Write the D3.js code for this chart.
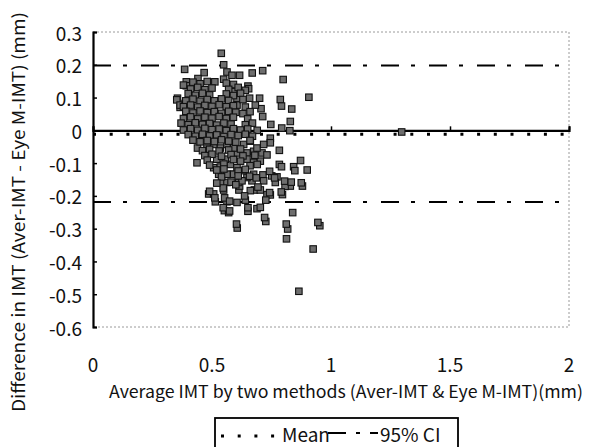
<!DOCTYPE html>
<html><head><meta charset="utf-8">
<script src="https://cdn.jsdelivr.net/npm/d3@7"></script>
<style>html,body{margin:0;padding:0;background:#fff;}svg{display:block;}</style>
</head><body>
<svg id="c" width="597" height="447"></svg>
<script>
const xTicks = [0, 0.5, 1, 1.5, 2];
const xTickLabels = ["0", "0.5", "1", "1.5", "2"];
const yTicks = [0.3, 0.2, 0.1, 0, -0.1, -0.2, -0.3, -0.4, -0.5, -0.6];
const yTickLabels = ["0.3", "0.2", "0.1", "0", "-0.1", "-0.2", "-0.3", "-0.4", "-0.5", "-0.6"];
const meanDiff = -0.012;
const ciUpper = 0.198;
const ciLower = -0.219;
const xTitle = "Average IMT by two methods (Aver-IMT & Eye M-IMT)(mm)";
const yTitle = "Difference in IMT (Aver-IMT  -  Eye M-IMT) (mm)";
const legendItems = ["Mean", "95% CI"];

// [average IMT, difference]
const pointsOuter = [
[0.539,0.235],[0.549,0.200],[0.385,0.186],[0.467,0.176],[0.563,0.178],[0.584,0.168],[0.616,0.168],
[0.669,0.175],[0.713,0.182],[0.799,0.155],[0.907,0.101],[0.441,0.158],[0.392,0.148],[0.392,0.136],
[0.549,0.156],[0.512,0.148],[0.651,0.135],[0.355,0.098],[0.366,0.070],[0.787,0.094],[0.792,0.074],
[0.835,0.065],[0.829,0.027],[0.747,0.018],[0.793,0.007],[0.827,-0.001],[1.297,-0.005],[0.706,0.066],
[0.713,0.042],[0.700,0.098],[0.658,0.098],[0.605,0.098],[0.605,0.077],[0.682,0.077],[0.654,0.127],
[0.591,0.118],[0.352,0.093],[0.366,0.077],[0.387,0.082],[0.380,0.138]
];
const pointsLower = [
[0.437,-0.099],[0.439,-0.054],[0.745,-0.024],[0.745,-0.038],[0.783,-0.061],[0.783,-0.104],[0.792,-0.111],
[0.843,-0.111],[0.872,-0.092],[0.900,-0.121],[0.848,-0.123],[0.880,-0.170],[0.829,-0.170],[0.807,-0.171],
[0.796,-0.196],[0.731,-0.196],[0.745,-0.197],[0.726,-0.213],[0.675,-0.134],[0.714,-0.136],[0.751,-0.139],
[0.773,-0.142],[0.717,-0.154],[0.766,-0.159],[0.668,-0.154],[0.678,-0.182],[0.703,-0.182],[0.613,-0.182],
[0.616,-0.170],[0.661,-0.184],[0.640,-0.213],[0.689,-0.239],[0.703,-0.235],[0.651,-0.247],[0.839,-0.251],
[0.726,-0.278],[0.606,-0.298],[0.818,-0.301],[0.813,-0.331],[0.953,-0.291],[0.925,-0.362],[0.865,-0.491],
[0.552,-0.245],[0.570,-0.251],[0.563,-0.218],[0.514,-0.218],[0.605,-0.220],[0.486,-0.194],[0.507,-0.194],
[0.549,-0.182],[0.542,-0.159],[0.563,-0.159],[0.584,-0.134],[0.612,-0.159],[0.528,-0.134],[0.563,-0.134],
[0.507,-0.114],[0.535,-0.112],[0.577,-0.104],[0.605,-0.114],[0.633,-0.123],[0.591,-0.134],[0.647,-0.144],
[0.626,-0.154],[0.556,-0.088],[0.520,-0.088],[0.605,-0.069],[0.647,-0.069],[0.675,-0.064],[0.710,-0.069],
[0.731,-0.075],[0.703,-0.094],[0.675,-0.098],[0.647,-0.088],[0.633,-0.043],[0.661,-0.033],[0.689,-0.054],
[0.717,-0.043],[0.535,-0.054],[0.507,-0.043],[0.479,-0.054],[0.563,-0.043],[0.591,-0.054],
[0.805,-0.155],[0.833,-0.158],[0.875,-0.160],[0.791,-0.188],[0.742,-0.125],[0.763,-0.145],[0.658,-0.140],
[0.686,-0.145],[0.693,-0.173],[0.742,-0.190],[0.637,-0.200],[0.547,-0.176],[0.490,-0.186],[0.512,-0.206],
[0.553,-0.206],[0.574,-0.216],[0.547,-0.236],[0.574,-0.246],[0.651,-0.236],[0.721,-0.266],[0.603,-0.286],
[0.812,-0.286],[0.945,-0.281],
[0.46,-0.062],[0.49,-0.058],[0.53,-0.063],[0.57,-0.060],[0.62,-0.057],
[0.47,-0.077],[0.50,-0.073],[0.54,-0.079],[0.58,-0.074],[0.63,-0.078],[0.68,-0.076],
[0.48,-0.091],[0.59,-0.089],[0.62,-0.094],[0.49,-0.106],[0.55,-0.103],[0.66,-0.108],[0.69,-0.104],
[0.52,-0.121],[0.55,-0.118],[0.61,-0.124],[0.64,-0.119],[0.54,-0.142],[0.61,-0.139],
[0.52,-0.161],[0.58,-0.158],[0.60,-0.166]
];
const pointsCore = [
[0.42,0.147],[0.45,0.142],[0.48,0.149],[0.56,0.144],[0.59,0.140],
[0.41,0.126],[0.44,0.131],[0.47,0.124],[0.50,0.129],[0.57,0.125],[0.61,0.131],[0.64,0.122],
[0.40,0.112],[0.43,0.107],[0.46,0.113],[0.49,0.108],[0.56,0.111],[0.59,0.106],[0.62,0.113],
[0.39,0.090],[0.42,0.095],[0.45,0.089],[0.48,0.094],[0.51,0.090],[0.54,0.096],[0.57,0.091],[0.63,0.094],
[0.38,0.072],[0.41,0.077],[0.44,0.071],[0.47,0.076],[0.50,0.073],[0.53,0.078],[0.56,0.072],[0.59,0.075],[0.64,0.071],
[0.39,0.058],[0.42,0.053],[0.45,0.059],[0.48,0.054],[0.51,0.057],[0.54,0.052],[0.57,0.058],[0.60,0.055],[0.63,0.051],[0.66,0.057],
[0.38,0.036],[0.41,0.041],[0.44,0.035],[0.47,0.040],[0.50,0.037],[0.53,0.042],[0.56,0.036],[0.59,0.040],[0.65,0.035],
[0.37,0.022],[0.40,0.017],[0.43,0.023],[0.46,0.018],[0.49,0.021],[0.52,0.016],[0.55,0.022],[0.58,0.019],[0.64,0.017],[0.67,0.022],
[0.38,0.001],[0.41,0.005],[0.44,0.000],[0.47,0.006],[0.50,0.002],[0.53,0.004],[0.56,-0.001],[0.59,0.005],[0.62,0.001],[0.65,0.004],[0.69,0.000],
[0.40,-0.013],[0.43,-0.018],[0.46,-0.012],[0.49,-0.017],[0.52,-0.014],[0.55,-0.019],[0.58,-0.013],[0.61,-0.016],[0.64,-0.012],[0.67,-0.018],
[0.42,-0.030],[0.45,-0.035],[0.48,-0.031],[0.51,-0.034],[0.54,-0.029],[0.57,-0.033],[0.60,-0.036],[0.66,-0.031]
];
const points = pointsOuter.concat(pointsLower, pointsCore);

const svg = d3.select("#c");
svg.append("rect").attr("width",597).attr("height",447).attr("fill","#fff");

const x = d3.scaleLinear().domain([0, 2]).range([93, 569]);
const y = d3.scaleLinear().domain([-0.6, 0.3]).range([327, 32]);
const font = "'Noto Sans CJK JP', 'Noto Sans', sans-serif";

// frame (faint scanned border)
svg.append("path")
  .attr("d", `M${x(0)},${y(0.3)}H${x(2)}V${y(-0.6)}H${x(0)}`)
  .attr("fill","none").attr("stroke","#9a9a9a").attr("stroke-width",1)
  .attr("stroke-dasharray","2,2");

// y axis
const yAxis = d3.axisRight(y).tickValues(yTicks).tickSize(4).tickFormat("");
const gy = svg.append("g").attr("transform",`translate(${x(0)},0)`).call(yAxis);
gy.select(".domain").attr("stroke","#000").attr("stroke-width",2.2);
gy.selectAll(".tick line").attr("stroke","#000").attr("stroke-width",1.5);

svg.append("g").selectAll("text").data(yTicks).join("text")
  .attr("x", 82).attr("y", d => y(d))
  .attr("text-anchor","end").attr("dominant-baseline","central")
  .attr("font-family", font).attr("font-size", 19).attr("fill","#111")
  .text((d,i) => yTickLabels[i]);

// x axis crossing at zero
const xAxis = d3.axisTop(x).tickValues(xTicks).tickSize(4).tickFormat("");
const gx = svg.append("g").attr("transform",`translate(0,${y(0)})`).call(xAxis);
gx.select(".domain").attr("stroke","#000").attr("stroke-width",2.2);
gx.selectAll(".tick line").attr("stroke","#000").attr("stroke-width",1.5);

svg.append("g").selectAll("text").data(xTicks).join("text")
  .attr("x", d => x(d)).attr("y", 363)
  .attr("text-anchor","middle").attr("dominant-baseline","central")
  .attr("font-family", font).attr("font-size", 19).attr("fill","#111")
  .text((d,i) => xTickLabels[i]);

// titles
svg.append("text").attr("x", 346).attr("y", 398)
  .attr("text-anchor","middle").attr("font-family", font).attr("font-size", 17).attr("fill","#111")
  .attr("textLength", 474).attr("lengthAdjust","spacingAndGlyphs")
  .text(xTitle);
svg.append("text").attr("transform","translate(25,212) rotate(-90)")
  .attr("text-anchor","middle").attr("font-family", font).attr("font-size", 17).attr("fill","#111")
  .attr("textLength", 400).attr("lengthAdjust","spacingAndGlyphs")
  .text(yTitle);

// reference lines
const line = (v) => `M${x(0)},${y(v)}H${x(2)}`;
svg.append("path").attr("d", line(meanDiff)).attr("stroke","#000").attr("stroke-width",3)
  .attr("stroke-dasharray","3,13.7").attr("fill","none");
[ciUpper, ciLower].forEach(v => {
  svg.append("path").attr("d", line(v)).attr("stroke","#000").attr("stroke-width",2)
    .attr("stroke-dasharray","18,12,4,14").attr("fill","none");
});

// points
const s = 6.5;
svg.append("g").selectAll("rect").data(points).join("rect")
  .attr("x", d => x(d[0]) - s/2).attr("y", d => y(d[1]) - s/2)
  .attr("width", s).attr("height", s)
  .attr("fill","#6e6e6e").attr("stroke","#111").attr("stroke-width",1.1);

// legend
const lg = svg.append("g");
lg.append("rect").attr("x",215).attr("y",418).attr("width",243).attr("height",40)
  .attr("fill","#fff").attr("stroke","#000").attr("stroke-width",1.8);
lg.append("path").attr("d","M221,436H280").attr("stroke","#000").attr("stroke-width",3)
  .attr("stroke-dasharray","3,13.7");
lg.append("text").attr("x",282).attr("y",442).attr("font-family",font).attr("font-size",19)
  .attr("fill","#111").text(legendItems[0]);
lg.append("path").attr("d","M328,433H378").attr("stroke","#000").attr("stroke-width",2)
  .attr("stroke-dasharray","18,10,4,10");
lg.append("text").attr("x",380).attr("y",442).attr("font-family",font).attr("font-size",19)
  .attr("fill","#111").text(legendItems[1]);
</script>
</body></html>
